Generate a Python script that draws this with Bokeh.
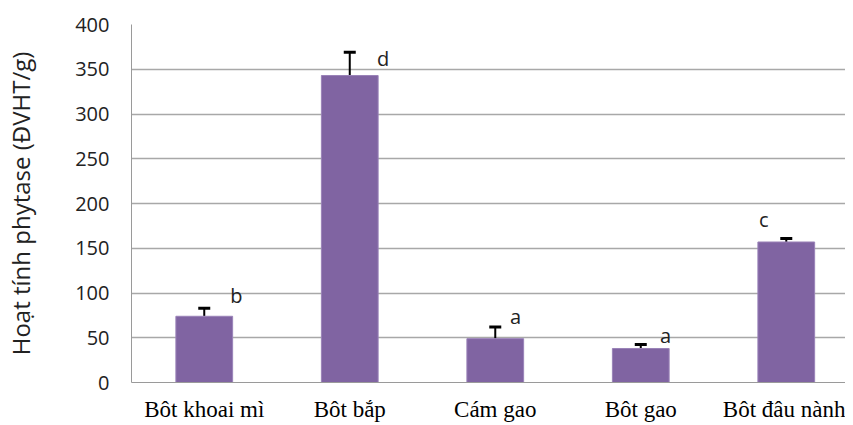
from bokeh.plotting import figure
from bokeh.models import Range1d, Whisker, TeeHead, ColumnDataSource, FixedTicker
from bokeh.core.properties import value
from bokeh.embed import file_html
from bokeh.resources import INLINE

# ---- data ----
categories = ["Bôt khoai mì", "Bôt bắp", "Cám gao", "Bôt gao", "Bôt đâu nành"]
activity = [74, 343, 49, 38, 157]
error_up = [9, 26, 13, 4.5, 4]
letters = ["b", "d", "a", "a", "c"]
letter_y = [97, 362, 74, 53, 182]
letter_dx = [0.22, 0.23, 0.14, 0.17, -0.155]
y_ticks = [0, 50, 100, 150, 200, 250, 300, 350, 400]

xs = [i + 0.5 for i in range(len(categories))]
src = ColumnDataSource(dict(
    x=xs, top=activity,
    upper=[a + e for a, e in zip(activity, error_up)],
    lx=[x + d for x, d in zip(xs, letter_dx)],
    ly=letter_y, txt=letters,
))

p = figure(width=845, height=424, output_backend="svg", toolbar_location=None,
           x_range=Range1d(0, 4.907), y_range=Range1d(0, 400),
           min_border_left=131, min_border_right=0, min_border_top=24, min_border_bottom=40)
p.outline_line_color = None
p.background_fill_color = "white"
p.border_fill_color = "white"

p.vbar(x="x", top="top", width=0.39, bottom=0, source=src,
       fill_color="#8064A2", line_color="#9a83b8", line_width=1)

p.add_layout(Whisker(base="x", lower="top", upper="upper", source=src,
                     line_color="black", line_width=2,
                     upper_head=TeeHead(size=12, line_color="black", line_width=3),
                     lower_head=None))

p.text(x="lx", y="ly", text="txt", source=src, text_align="center", text_baseline="middle",
       text_font=value("Open Sans"), text_font_size="20px", text_color="#222222")

# y axis
p.yaxis.ticker = FixedTicker(ticks=y_ticks)
p.yaxis.axis_label = "Hoạt tính phytase (ĐVHT/g)"
p.yaxis.axis_label_text_font = "Open Sans"
p.yaxis.axis_label_text_font_size = "24px"
p.yaxis.axis_label_text_font_style = "normal"
p.yaxis.axis_label_text_color = "#222222"
p.yaxis.axis_label_standoff = 35
p.yaxis.major_label_text_font = "Open Sans"
p.yaxis.major_label_text_font_size = "20px"
p.yaxis.major_label_text_color = "#222222"
p.yaxis.major_tick_out = 0
p.yaxis.major_tick_in = 0
p.yaxis.minor_tick_out = 0
p.yaxis.minor_tick_in = 0
p.yaxis.major_label_standoff = 22
p.yaxis.axis_line_color = "#9a9a9a"

# x axis
p.xaxis.ticker = FixedTicker(ticks=xs)
p.xaxis.major_label_overrides = {x: c for x, c in zip(xs, categories)}
p.xaxis.major_label_text_font = "Liberation Serif"
p.xaxis.major_label_text_font_size = "23px"
p.xaxis.major_label_text_color = "black"
p.xaxis.major_tick_out = 0
p.xaxis.major_tick_in = 0
p.xaxis.minor_tick_out = 0
p.xaxis.minor_tick_in = 0
p.xaxis.major_label_standoff = 14
p.xaxis.axis_line_color = "#9a9a9a"

p.xgrid.grid_line_color = None
p.ygrid.grid_line_color = "#a8a8a8"
p.ygrid.grid_line_width = 1.5

open("out.html", "w").write(file_html(p, INLINE))
